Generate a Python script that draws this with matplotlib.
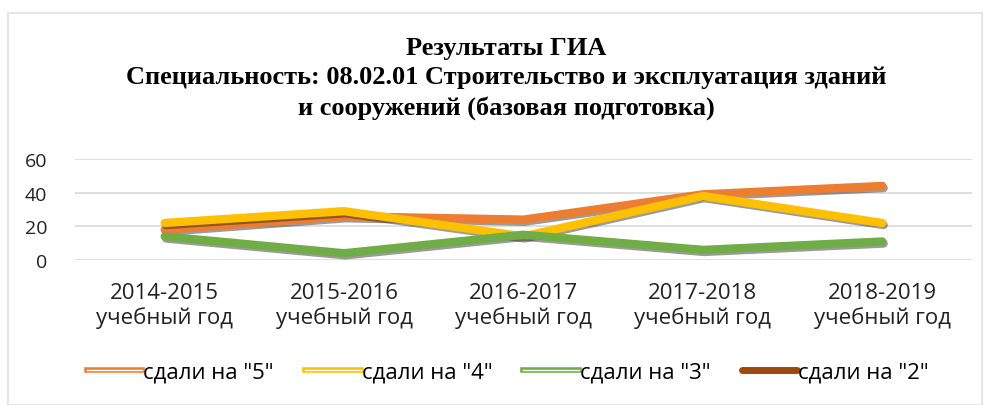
import matplotlib.pyplot as plt
from matplotlib.lines import Line2D
from matplotlib.patches import Rectangle
import matplotlib.patheffects as pe
import numpy as np

years = ['2014-2015\nучебный год', '2015-2016\nучебный год', '2016-2017\nучебный год',
         '2017-2018\nучебный год', '2018-2019\nучебный год']
grade5 = [18, 26, 24, 39, 44]
grade4 = [22, 29, 14, 38, 22]
grade3 = [14, 4, 15, 6, 11]
grade2 = [None, None, None, None, None]  # no values shown on the chart

names = ['сдали на "5"', 'сдали на "4"', 'сдали на "3"', 'сдали на "2"']
colors = ['#ED7D31', '#FFC000', '#70AD47', '#9E480E']

W, H = 990, 406
fig = plt.figure(figsize=(W / 100, H / 100), dpi=100)
fig.patch.set_facecolor('white')

# outer chart border
fig.patches.append(Rectangle((8 / W, 0), 974 / W, (H - 14) / H, transform=fig.transFigure,
                             fill=False, edgecolor='#e6e6e6', linewidth=1.5))

ax = fig.add_axes([75 / W, (H - 261) / H, 897 / W, 101 / H])
x = np.arange(len(years))
shadow = [pe.SimpleLineShadow(offset=(1, -1.5), shadow_color='#222222', alpha=0.45), pe.Normal()]
for vals, c in zip([grade5, grade4, grade3, grade2], colors):
    y = np.array([np.nan if v is None else v for v in vals], dtype=float)
    ax.plot(x, y, color=c, linewidth=6, solid_capstyle='round', solid_joinstyle='round',
            path_effects=shadow, zorder=3)

ax.set_xlim(-0.5, len(years) - 0.5)
ax.set_ylim(0, 60)
ax.set_yticks([0, 20, 40, 60])
ax.grid(axis='y', color='#d9d9d9', linewidth=1.2)
ax.set_axisbelow(True)
for s in ax.spines.values():
    s.set_visible(False)
ax.tick_params(length=0)
ax.set_xticks(x)
ax.set_xticklabels(years, fontsize=16, family='Open Sans', color='#222222', linespacing=1.2)
ax.tick_params(axis='x', pad=16)
ax.tick_params(axis='y', pad=20)
for t in ax.get_yticklabels():
    t.set_fontsize(14)
    t.set_family('Open Sans')
    t.set_color('#222222')

fig.text(0.511, (H - 37) / H, 'Результаты ГИА\nСпециальность: 08.02.01 Строительство и эксплуатация зданий\nи сооружений (базовая подготовка)',
         ha='center', va='top', fontsize=19, fontweight='bold', family='Liberation Serif',
         linespacing=1.36, transform=fig.transFigure)

def double(c):
    return Line2D([], [], color='white', linewidth=1,
                  path_effects=[pe.Stroke(linewidth=4, foreground=c), pe.Normal()])

handles = [double(colors[0]), double(colors[1]), double(colors[2]),
           Line2D([], [], color=colors[3], linewidth=5, solid_capstyle='round')]
fig.legend(handles, names, loc='center', bbox_to_anchor=(0.513, (H - 373) / H), ncol=4,
           frameon=False, prop={'family': 'Open Sans', 'size': 16}, handlelength=2.5,
           handletextpad=0.05, columnspacing=1.4)

fig.savefig('out.png', dpi=100, facecolor='white')
